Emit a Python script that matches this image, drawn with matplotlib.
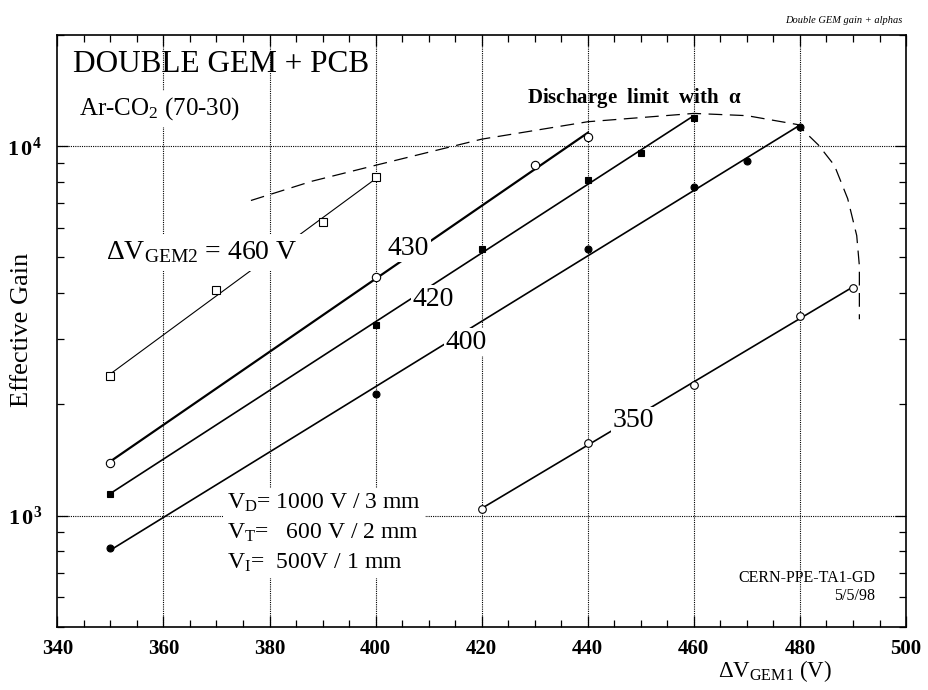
import matplotlib
matplotlib.use('Agg')
import matplotlib.pyplot as plt
import matplotlib.ticker as ticker
import numpy as np

plt.rcParams['font.family'] = ['Liberation Serif', 'DejaVu Serif']
plt.rcParams['mathtext.fontset'] = 'custom'
plt.rcParams['mathtext.rm'] = 'Liberation Serif'
plt.rcParams['mathtext.it'] = 'Liberation Serif:italic'
plt.rcParams['mathtext.bf'] = 'Liberation Serif:bold'

# gain curves, one per dV_GEM2 setting
v_460 = [350, 370, 390, 400]
gain_460 = [2380, 4080, 6220, 8230]
v_430 = [350, 400, 430, 440]
gain_430 = [1390, 4430, 8880, 10560]
v_420 = [350, 400, 420, 440, 450, 460]
gain_420 = [1145, 3290, 5260, 8090, 9600, 11950]
v_400 = [350, 400, 440, 460, 470, 480]
gain_400 = [815, 2140, 5270, 7760, 9130, 11240]
v_350 = [420, 440, 460, 480, 490]
gain_350 = [1042, 1575, 2250, 3470, 4140]

# discharge limit (dashed)
limit_v = [376.5, 388, 400, 420, 440, 460, 470, 479.5, 483.5, 486.5, 489, 490.7, 491.2, 491.2]
limit_gain = [7130, 8040, 8880, 10450, 11650, 12270, 12100, 11450, 10070, 8870, 7210, 5730, 4740, 3400]

xticks = [340, 360, 380, 400, 420, 440, 460, 480, 500]
yticks = [1e3, 1e4]
ytick_labels = [r'$\mathbf{1\,0^{3}}$', r'$\mathbf{1\,0^{4}}$']


def fit_line(x, y):
    # straight line in log(gain)
    p = np.polyfit(x, np.log10(y), 1)
    xs = np.array([min(x), max(x)])
    return xs, 10 ** np.polyval(p, xs)


fig = plt.figure(figsize=(9.29, 6.9), dpi=100)
ax = fig.add_axes([0.0617, 0.0917, 0.9136, 0.8575])
ax.set_yscale('log')
ax.set_xlim(340, 500)
ax.set_ylim(500, 20000)

for gx in xticks[1:-1]:
    ax.axvline(gx, color='black', lw=0.8, ls=(0, (1, 1)), zorder=1)
for gy in yticks:
    ax.axhline(gy, color='black', lw=0.8, ls=(0, (1, 1)), zorder=1)

series = [
    (v_460, gain_460, 's', 'white', 0.8, 6),
    (v_430, gain_430, 'o', 'white', 1.6, 6),
    (v_420, gain_420, 's', 'black', 1.2, 5),
    (v_400, gain_400, 'o', 'black', 1.2, 5),
    (v_350, gain_350, 'o', 'white', 1.2, 5.5),
]
for x, y, m, fc, lw, ms in series:
    lx, ly = fit_line(x, y)
    ax.plot(lx, ly, color='black', lw=lw, zorder=2)
    ax.plot(x, y, ls='none', marker=m, mfc=fc, mec='black', mew=0.8, ms=ms, zorder=4)

ax.plot(limit_v, limit_gain, color='black', lw=0.9, ls=(0, (11, 6)), zorder=2)

box = dict(facecolor='white', edgecolor='none', pad=1)
ax.text(402.3, 5076, '430', fontsize=20, ha='left', va='baseline', bbox=box, zorder=3)
ax.text(406.9, 3700, '420', fontsize=20, ha='left', va='baseline', bbox=box, zorder=3)
ax.text(413.1, 2827, '400', fontsize=20, ha='left', va='baseline', bbox=box, zorder=3)
ax.text(444.6, 1735, '350', fontsize=20, ha='left', va='baseline', bbox=box, zorder=3)
ax.text(349.2, 4951, r'$\Delta$V$_{\mathrm{GEM2}}$ = 460 V', fontsize=20, ha='left',
        va='baseline', bbox=dict(facecolor='white', edgecolor='none', pad=4), zorder=3)

ax.text(0.0185, 0.9375, 'DOUBLE GEM + PCB', fontsize=22.5, transform=ax.transAxes,
        ha='left', va='baseline')
ax.text(0.0256, 0.8648, r'Ar-CO$_{2}$ (70-30)', fontsize=18, transform=ax.transAxes,
        ha='left', va='baseline', bbox=dict(facecolor='white', edgecolor='none', pad=3))
ax.text(0.553, 0.885, r'Discharge  limit  with  $\mathbf{\alpha}$', fontsize=15,
        fontweight='bold', transform=ax.transAxes, ha='left', va='baseline')
ax.text(0.2, 0.2277,
        'V$_{\\mathrm{D}}$= 1000 V / 3 mm\nV$_{\\mathrm{T}}$=   600 V / 2 mm\nV$_{\\mathrm{I}}$=  500V / 1 mm',
        fontsize=17, transform=ax.transAxes, ha='left', va='top', linespacing=1.45,
        bbox=dict(facecolor='white', edgecolor='none', pad=3), zorder=3)
ax.text(0.9635, 0.046, 'CERN-PPE-TA1-GD\n5/5/98', fontsize=11.5, transform=ax.transAxes,
        ha='right', va='baseline', multialignment='right', linespacing=1.15)

ax.set_xticks(xticks)
ax.set_xticklabels([str(t) for t in xticks], fontsize=15, fontweight='bold')
ax.xaxis.set_minor_locator(ticker.MultipleLocator(5))
ax.set_yticks(yticks)
ax.set_yticklabels(ytick_labels, fontsize=16)
ax.yaxis.set_minor_locator(ticker.LogLocator(base=10, subs=np.arange(2, 10)))
ax.yaxis.set_minor_formatter(ticker.NullFormatter())

ax.tick_params(which='both', direction='in', top=True, right=True, width=0.9)
ax.tick_params(which='major', length=8)
ax.tick_params(which='minor', length=5)
ax.tick_params(axis='x', pad=9)
ax.tick_params(axis='y', pad=11)
for s in ax.spines.values():
    s.set_linewidth(1.2)

fig.text(0.0237, 0.522, 'Effective Gain', fontsize=19, rotation=90, ha='center', va='center')
fig.text(0.834, 0.028, r'$\Delta$V$_{\mathrm{GEM1}}$ (V)', fontsize=16.5, ha='center', va='center')
fig.text(0.971, 0.9667, 'Double GEM gain + alphas', fontsize=7.5, style='italic',
         ha='right', va='baseline')

fig.savefig('out.png', dpi=100)
